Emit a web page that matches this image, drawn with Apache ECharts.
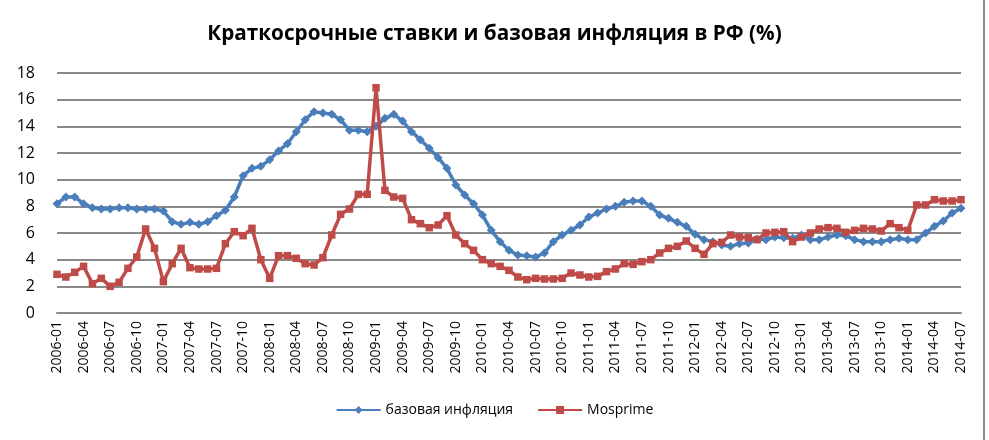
<!DOCTYPE html>
<html>
<head>
<meta charset="utf-8">
<script src="https://cdn.jsdelivr.net/npm/echarts@6/dist/echarts.min.js"></script>
<style>html,body{margin:0;padding:0;background:#fff}#c{width:989px;height:440px}</style>
</head>
<body>
<div id="c"></div>
<script>
var categories = [
'2006-01','2006-02','2006-03','2006-04','2006-05','2006-06','2006-07','2006-08','2006-09','2006-10','2006-11','2006-12',
'2007-01','2007-02','2007-03','2007-04','2007-05','2007-06','2007-07','2007-08','2007-09','2007-10','2007-11','2007-12',
'2008-01','2008-02','2008-03','2008-04','2008-05','2008-06','2008-07','2008-08','2008-09','2008-10','2008-11','2008-12',
'2009-01','2009-02','2009-03','2009-04','2009-05','2009-06','2009-07','2009-08','2009-09','2009-10','2009-11','2009-12',
'2010-01','2010-02','2010-03','2010-04','2010-05','2010-06','2010-07','2010-08','2010-09','2010-10','2010-11','2010-12',
'2011-01','2011-02','2011-03','2011-04','2011-05','2011-06','2011-07','2011-08','2011-09','2011-10','2011-11','2011-12',
'2012-01','2012-02','2012-03','2012-04','2012-05','2012-06','2012-07','2012-08','2012-09','2012-10','2012-11','2012-12',
'2013-01','2013-02','2013-03','2013-04','2013-05','2013-06','2013-07','2013-08','2013-09','2013-10','2013-11','2013-12',
'2014-01','2014-02','2014-03','2014-04','2014-05','2014-06','2014-07'];

var coreInflation = [
8.2,8.7,8.7,8.2,7.9,7.8,7.8,7.9,7.9,7.8,7.8,7.8,
7.65,6.85,6.65,6.8,6.65,6.85,7.3,7.7,8.7,10.3,10.85,11.0,
11.5,12.15,12.7,13.6,14.5,15.1,15.0,14.9,14.5,13.7,13.7,13.6,
14.0,14.6,14.9,14.4,13.6,13.0,12.35,11.65,10.85,9.6,8.85,8.2,
7.35,6.2,5.35,4.7,4.35,4.3,4.2,4.5,5.35,5.85,6.2,6.6,
7.2,7.5,7.8,8.0,8.3,8.4,8.4,8.0,7.35,7.1,6.8,6.5,
5.9,5.5,5.35,5.1,5.0,5.2,5.25,5.55,5.5,5.7,5.65,5.6,
5.85,5.5,5.5,5.7,5.85,5.8,5.5,5.35,5.35,5.35,5.5,5.6,
5.5,5.5,6.0,6.5,6.9,7.5,7.85];

var mosprime = [
2.9,2.7,3.05,3.5,2.2,2.6,2.0,2.3,3.35,4.2,6.3,4.85,
2.35,3.7,4.85,3.4,3.3,3.3,3.35,5.2,6.1,5.8,6.35,4.0,
2.6,4.3,4.3,4.1,3.7,3.6,4.15,5.85,7.4,7.8,8.9,8.9,
16.9,9.2,8.7,8.6,7.0,6.7,6.4,6.6,7.3,5.85,5.2,4.7,
4.0,3.7,3.5,3.2,2.7,2.5,2.6,2.55,2.55,2.6,3.0,2.85,
2.7,2.75,3.1,3.3,3.7,3.65,3.85,4.0,4.5,4.85,5.0,5.4,
4.85,4.4,5.2,5.3,5.85,5.7,5.65,5.5,6.0,6.05,6.1,5.35,
5.7,6.0,6.3,6.4,6.35,6.05,6.2,6.35,6.3,6.15,6.7,6.4,
6.2,8.1,8.1,8.5,8.4,8.4,8.5];

var yTicks = [0,2,4,6,8,10,12,14,16,18];

var FONT = '"Open Sans", "Liberation Sans", sans-serif';
var chart = echarts.init(document.getElementById('c'), null, {renderer:'canvas'});
chart.setOption({
  backgroundColor:'#ffffff',
  animation:false,
  title:{
    text:'Краткосрочные ставки и базовая инфляция в РФ (%)',
    left:'center', top:19,
    textStyle:{fontFamily:FONT, fontSize:20.7, fontWeight:'bold', color:'#000'}
  },
  legend:{
    bottom:18, left:'center',
    itemWidth:44, itemHeight:10, itemGap:24,
    textStyle:{fontFamily:FONT, fontSize:14, color:'#000'},
    data:['базовая инфляция','Mosprime']
  },
  grid:{left:57, right:28, top:73, bottom:127},
  xAxis:{
    type:'category', data:categories, boundaryGap:false,
    axisLine:{lineStyle:{color:'#8a8a8a', width:2}},
    axisTick:{show:false},
    axisLabel:{interval:2, rotate:90, margin:8, fontFamily:FONT, fontSize:14, color:'#000'}
  },
  yAxis:{
    type:'value', min:yTicks[0], max:yTicks[yTicks.length-1], interval:2,
    axisLine:{show:false}, axisTick:{show:false},
    axisLabel:{margin:22, fontFamily:FONT, fontSize:16, color:'#000'},
    splitLine:{lineStyle:{color:'#8a8a8a', width:2}}
  },
  series:[
    {name:'базовая инфляция', type:'line', data:coreInflation,
     symbol:'diamond', symbolSize:9, showAllSymbol:true,
     lineStyle:{color:'#4a7ebb', width:3.5}, itemStyle:{color:'#4a7ebb'}, z:2},
    {name:'Mosprime', type:'line', data:mosprime,
     symbol:'rect', symbolSize:7.5, showAllSymbol:true,
     lineStyle:{color:'#be4b48', width:3.5}, itemStyle:{color:'#be4b48'}, z:3}
  ],
  graphic:[{type:'line', shape:{x1:984, y1:0, x2:984, y2:440}, style:{stroke:'#8a8a8a', lineWidth:2}}]
});
</script>
</body>
</html>
